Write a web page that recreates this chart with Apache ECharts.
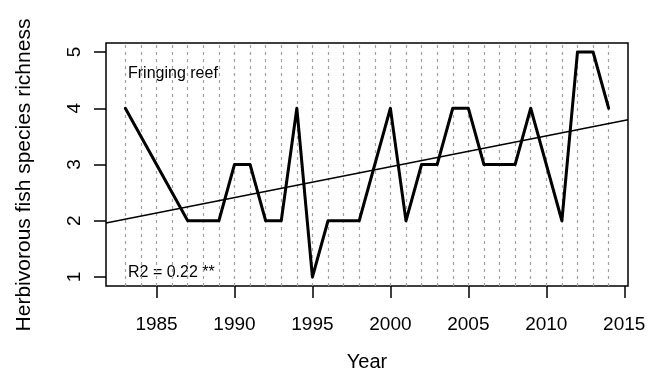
<!DOCTYPE html>
<html>
<head>
<meta charset="utf-8">
<script src="https://cdn.jsdelivr.net/npm/echarts@6/dist/echarts.min.js"></script>
<style>html,body{margin:0;padding:0;background:#fff;}#c{width:648px;height:372px;}</style>
</head>
<body>
<div id="c"></div>
<script>
// Data
const years = [1983, 1987, 1988, 1989, 1990, 1991, 1992, 1993, 1994, 1995, 1996, 1997, 1998, 1999, 2000, 2001, 2002, 2003, 2004, 2005, 2006, 2007, 2008, 2009, 2010, 2011, 2012, 2013, 2014];
const richness = [4, 2, 2, 2, 3, 3, 2, 2, 4, 1, 2, 2, 2, 3, 4, 2, 3, 3, 4, 4, 3, 3, 3, 4, 3, 2, 5, 5, 4];
const guideYears = [1983,1984,1985,1986,1987,1988,1989,1990,1991,1992,1993,1994,1995,1996,1997,1998,1999,2000,2001,2002,2003,2004,2005,2006,2007,2008,2009,2010,2011,2012,2013,2014];
const xTicks = [1985, 1990, 1995, 2000, 2005, 2010, 2015];
const yTicks = [1, 2, 3, 4, 5];
const fitIntercept = -106.7;   // linear fit: richness = a + b*year
const fitSlope = 0.05483;
const siteLabel = 'Fringing reef';
const statLabel = 'R2 = 0.22 **';

// R-style 4% axis extension
const xMin0 = Math.min(...years), xMax0 = Math.max(...years);
const xPad = (xMax0 - xMin0) * 0.04;
const xMin = xMin0 - xPad, xMax = xMax0 + xPad;
const yPad = (5 - 1) * 0.04;
const yMin = 1 - yPad, yMax = 5 + yPad;

const lineData = years.map((y, i) => [y, richness[i]]);
const fitData = [xMin, xMax].map(x => [x, fitIntercept + fitSlope * x]);

const FONT = 'Liberation Sans, Arial, sans-serif';
const chart = echarts.init(document.getElementById('c'), null, {renderer: 'canvas'});
chart.setOption({
  animation: false,
  backgroundColor: '#fff',
  grid: {left: 106, right: 20, top: 43, bottom: 86, outerBoundsMode: 'none', containLabel: false,
         show: true, borderColor: '#000', borderWidth: 1.5, backgroundColor: 'transparent'},
  xAxis: {
    type: 'value', min: xMin, max: xMax,
    axisLine: {show: false},
    splitLine: {show: false},
    axisTick: {show: true, length: 12, customValues: xTicks, lineStyle: {color: '#000', width: 1.5}},
    axisLabel: {customValues: xTicks, margin: 29, fontSize: 19, color: '#000', fontFamily: FONT, formatter: v => String(v)},
    name: 'Year', nameLocation: 'middle', nameGap: 66,
    nameTextStyle: {fontSize: 20, color: '#000', fontFamily: FONT}
  },
  yAxis: {
    type: 'value', min: yMin, max: yMax,
    axisLine: {show: false},
    splitLine: {show: false},
    axisTick: {show: true, length: 12, customValues: yTicks, lineStyle: {color: '#000', width: 1.5}},
    axisLabel: {customValues: yTicks, rotate: 90, margin: 22, fontSize: 19, color: '#000', fontFamily: FONT, formatter: v => String(v)}
  },
  graphic: [
    {type: 'text', left: 128, top: 66, style: {text: siteLabel, fontSize: 16, fill: '#000', fontFamily: FONT}},
    {type: 'text', left: 128, top: 265, style: {text: statLabel, fontSize: 16, fill: '#000', fontFamily: FONT}},
    {type: 'text', x: 24, y: 175, rotation: Math.PI / 2,
     style: {text: 'Herbivorous fish species richness', fontSize: 21, fill: '#000', fontFamily: FONT, align: 'center', verticalAlign: 'middle'}}
  ],
  series: [
    {
      type: 'line', data: [], silent: true, z: 1,
      markLine: {
        silent: true, symbol: 'none', animation: false, z: 1,
        label: {show: false},
        lineStyle: {color: '#a0a0a0', type: [3, 4], width: 1.2},
        data: guideYears.map(y => ({xAxis: y}))
      }
    },
    {
      type: 'line', data: fitData, showSymbol: false, silent: true, z: 3,
      lineStyle: {color: '#000', width: 1.5}
    },
    {
      type: 'line', data: lineData, showSymbol: false, silent: true, z: 4,
      lineStyle: {color: '#000', width: 3, join: 'round', cap: 'round'}
    }
  ]
});
</script>
</body>
</html>
